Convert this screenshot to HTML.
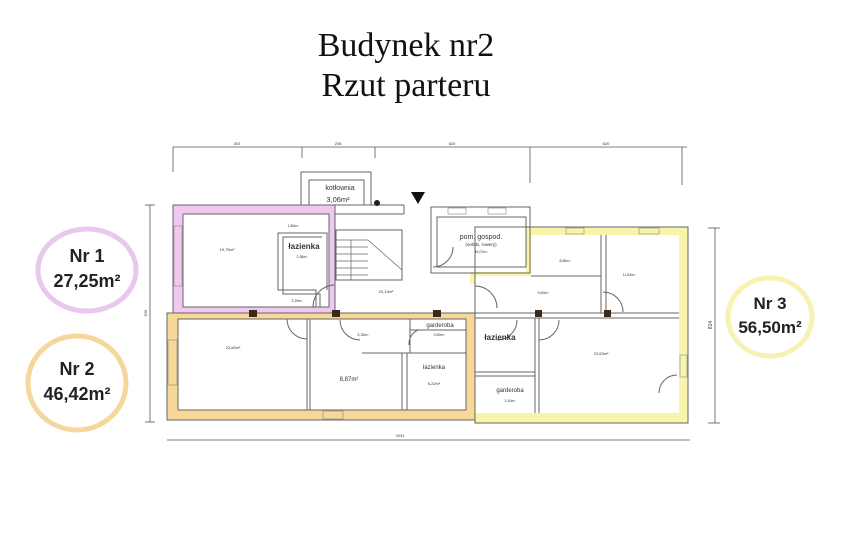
<!DOCTYPE html>
<html><head><meta charset="utf-8"><style>
html,body{margin:0;padding:0;background:#fff;}
svg{display:block;}
.t{font-family:"Liberation Sans",sans-serif;fill:#333;}
</style></head><body>
<svg width="857" height="544" viewBox="0 0 857 544" xmlns="http://www.w3.org/2000/svg">
<rect width="857" height="544" fill="#fff"/>
<text x="406" y="56" text-anchor="middle" font-family="Liberation Serif,serif" font-size="34" fill="#111">Budynek nr2</text>
<text x="406" y="96" text-anchor="middle" font-family="Liberation Serif,serif" font-size="34" fill="#111">Rzut parteru</text>

<!-- circles -->
<ellipse cx="87" cy="270" rx="49" ry="41" fill="none" stroke="#e8c8ec" stroke-width="5"/>
<text x="87" y="262" text-anchor="middle" font-family="Liberation Sans,sans-serif" font-size="18" font-weight="bold" fill="#222">Nr 1</text>
<text x="87" y="287" text-anchor="middle" font-family="Liberation Sans,sans-serif" font-size="18" font-weight="bold" fill="#222">27,25m²</text>
<ellipse cx="77" cy="383" rx="49" ry="47" fill="none" stroke="#f6d69a" stroke-width="5"/>
<text x="77" y="375" text-anchor="middle" font-family="Liberation Sans,sans-serif" font-size="18" font-weight="bold" fill="#222">Nr 2</text>
<text x="77" y="400" text-anchor="middle" font-family="Liberation Sans,sans-serif" font-size="18" font-weight="bold" fill="#222">46,42m²</text>
<ellipse cx="770" cy="317" rx="42" ry="39" fill="none" stroke="#f7f2b4" stroke-width="5"/>
<text x="770" y="309" text-anchor="middle" font-family="Liberation Sans,sans-serif" font-size="17" font-weight="bold" fill="#222">Nr 3</text>
<text x="770" y="333" text-anchor="middle" font-family="Liberation Sans,sans-serif" font-size="17" font-weight="bold" fill="#222">56,50m²</text>

<!-- dimension lines -->
<g stroke="#555" stroke-width="0.8" fill="none">
<line x1="173" y1="147" x2="687" y2="147"/>
<line x1="173" y1="147" x2="173" y2="172"/>
<line x1="302" y1="147" x2="302" y2="158"/>
<line x1="375" y1="147" x2="375" y2="158"/>
<line x1="530" y1="147" x2="530" y2="183"/>
<line x1="682" y1="147" x2="682" y2="185"/>
<line x1="150" y1="205" x2="150" y2="422"/>
<line x1="145" y1="205" x2="155" y2="205"/>
<line x1="145" y1="422" x2="155" y2="422"/>
<line x1="715" y1="228" x2="715" y2="423"/>
<line x1="708" y1="228" x2="720" y2="228"/>
<line x1="708" y1="423" x2="720" y2="423"/>
<line x1="167" y1="440" x2="690" y2="440"/>
</g>
<g class="t" font-size="4">
<text x="237" y="145" text-anchor="middle">303</text>
<text x="338" y="145" text-anchor="middle">208</text>
<text x="452" y="145" text-anchor="middle">620</text>
<text x="606" y="145" text-anchor="middle">620</text>
<text x="400" y="437" text-anchor="middle">2031</text>
<text x="712" y="325" transform="rotate(-90 712 325)" text-anchor="middle" font-size="5">814</text>
<text x="147" y="313" transform="rotate(-90 147 313)" text-anchor="middle">926</text>
</g>

<!-- colored walls -->
<g fill="#f7d898">
<rect x="167" y="313" width="11" height="107"/>
<rect x="167" y="410" width="308" height="10"/>
<rect x="466" y="313" width="9" height="107"/>
<rect x="178" y="313" width="292" height="6"/>
</g>
<g fill="#f0c8f0">
<rect x="173" y="205" width="160" height="9"/>
<rect x="173" y="205" width="10" height="108"/>
<rect x="329" y="205" width="6" height="108"/>
<rect x="173" y="307" width="162" height="6"/>
</g>
<g fill="#f8f4aa">
<rect x="526" y="227" width="162" height="8"/>
<rect x="679" y="227" width="9" height="196"/>
<rect x="475" y="413" width="213" height="10"/>
<rect x="526" y="227" width="5" height="45"/>
<rect x="470" y="272" width="61" height="4"/>
<rect x="470" y="272" width="5" height="12"/>
</g>

<!-- walls (grey) -->
<g stroke="#666" stroke-width="1" fill="none">
<rect x="173" y="205" width="162" height="108"/>
<rect x="183" y="214" width="146" height="93"/>
<rect x="167" y="313" width="308" height="107"/>
<rect x="178" y="319" width="288" height="91"/>
<rect x="475" y="227" width="213" height="196"/>
<rect x="301" y="172" width="70" height="33"/>
<rect x="309" y="180" width="55" height="25"/>
<line x1="335" y1="205" x2="404" y2="205"/>
<line x1="335" y1="214" x2="404" y2="214"/>
<line x1="404" y1="205" x2="404" y2="214"/>
<rect x="431" y="207" width="99" height="66"/>
<rect x="437" y="217" width="89" height="50"/>
<polyline points="316,307 316,290 278,290 278,233 327,233 327,290"/>
<polyline points="320,307 320,294 283,294 283,237 322,237"/>
<rect x="336" y="230" width="66" height="50"/>
<g stroke-width="0.7">
<line x1="336" y1="240" x2="368" y2="240"/><line x1="336" y1="247" x2="368" y2="247"/>
<line x1="336" y1="254" x2="368" y2="254"/><line x1="336" y1="261" x2="368" y2="261"/>
<line x1="336" y1="268" x2="368" y2="268"/><line x1="336" y1="275" x2="368" y2="275"/>
<line x1="351" y1="240" x2="351" y2="280"/><line x1="368" y1="240" x2="402" y2="270"/>
</g>
<line x1="307" y1="319" x2="307" y2="410"/>
<line x1="310" y1="319" x2="310" y2="410"/>
<line x1="362" y1="353" x2="466" y2="353"/>
<line x1="402" y1="353" x2="402" y2="410"/>
<line x1="407" y1="353" x2="407" y2="410"/>
<line x1="410" y1="330" x2="466" y2="330"/>
<line x1="410" y1="319" x2="410" y2="353"/>
<line x1="475" y1="313" x2="679" y2="313"/>
<line x1="475" y1="318" x2="679" y2="318"/>
<line x1="535" y1="318" x2="535" y2="413"/>
<line x1="539" y1="318" x2="539" y2="413"/>
<line x1="475" y1="372" x2="535" y2="372"/>
<line x1="475" y1="376" x2="535" y2="376"/>
<line x1="601" y1="235" x2="601" y2="313"/>
<line x1="606" y1="235" x2="606" y2="313"/>
<line x1="531" y1="276" x2="601" y2="276"/>
<path d="M 335 285 A 22 22 0 0 0 313 307"/>
<path d="M 287 319 A 20 20 0 0 0 307 339"/>
<path d="M 340 320 A 20 20 0 0 0 360 340"/>
<path d="M 475 286 A 22 22 0 0 1 497 308"/>
<path d="M 603 292 A 20 20 0 0 1 623 312"/>
<path d="M 517 320 A 20 20 0 0 1 497 340"/>
<path d="M 559 320 A 20 20 0 0 1 539 340"/>
<path d="M 677 375 A 18 18 0 0 0 659 393"/>
<path d="M 453 247 A 20 20 0 0 1 433 267"/>
<path d="M 418 330 A 15 15 0 0 0 409 345"/>
</g>
<g fill="#3a2a1a">
<rect x="249" y="310" width="8" height="7"/>
<rect x="332" y="310" width="8" height="7"/>
<rect x="433" y="310" width="8" height="7"/>
<rect x="535" y="310" width="7" height="7"/>
<rect x="604" y="310" width="7" height="7"/>
</g>
<g stroke="#888" stroke-width="0.6" fill="none">
<rect x="174" y="226" width="8" height="60"/>
<rect x="168" y="340" width="9" height="45"/>
<rect x="323" y="411" width="20" height="8"/>
<rect x="448" y="208" width="18" height="6"/>
<rect x="488" y="208" width="18" height="6"/>
<rect x="566" y="228" width="18" height="6"/>
<rect x="639" y="228" width="20" height="6"/>
<rect x="680" y="355" width="7" height="22"/>
</g>
<polygon points="411,192 425,192 418,204" fill="#111"/>
<circle cx="377" cy="203" r="3" fill="#222"/>

<g class="t" text-anchor="middle">
<text x="340" y="190" font-size="7">kotłownia</text>
<text x="338" y="202" font-size="7.5">3,06m²</text>
<text x="304" y="249" font-size="8" font-weight="bold">łazienka</text>
<text x="302" y="258" font-size="3.5">2,38m²</text>
<text x="293" y="227" font-size="3.5">1,80m²</text>
<text x="227" y="251" font-size="4">19,75m²</text>
<text x="297" y="302" font-size="3.5">2,29m²</text>
<text x="386" y="293" font-size="4">20,13m²</text>
<text x="233" y="349" font-size="4">22,60m²</text>
<text x="349" y="381" font-size="6">8,87m²</text>
<text x="363" y="336" font-size="3.5">5,18m²</text>
<text x="440" y="327" font-size="6">garderoba</text>
<text x="439" y="336" font-size="3.5">3,60m²</text>
<text x="434" y="369" font-size="6">łazienka</text>
<text x="434" y="385" font-size="4">6,22m²</text>
<text x="481" y="239" font-size="7">pom. gospod.</text>
<text x="481" y="246" font-size="4.5">(sołziki, rowery)</text>
<text x="481" y="253" font-size="3.5">16,07m²</text>
<text x="565" y="262" font-size="3.5">8,85m²</text>
<text x="629" y="276" font-size="3.5">11,53m²</text>
<text x="543" y="294" font-size="3.5">9,60m²</text>
<text x="500" y="340" font-size="8" font-weight="bold">łazienka</text>
<text x="601" y="355" font-size="4">23,63m²</text>
<text x="510" y="392" font-size="6">garderoba</text>
<text x="510" y="402" font-size="3.5">3,10m²</text>
</g>
</svg>
</body></html>
